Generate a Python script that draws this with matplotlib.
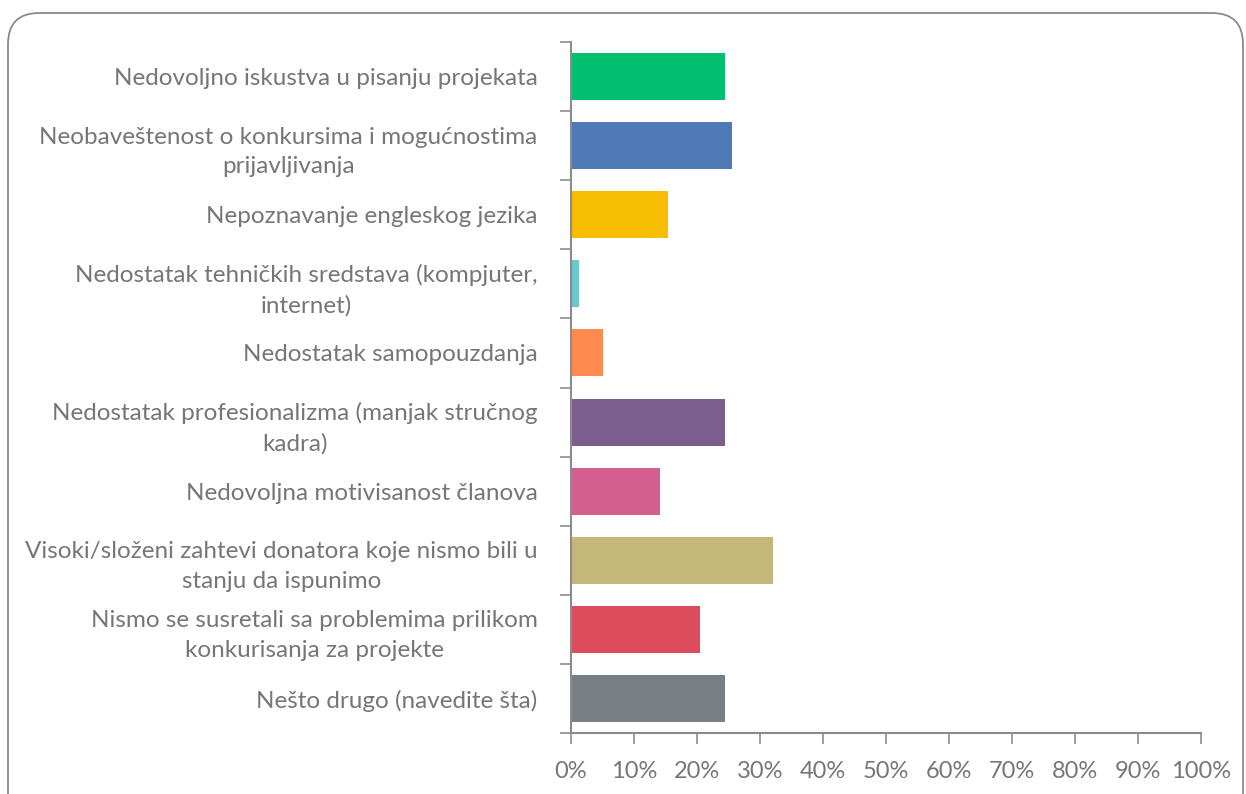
import matplotlib.pyplot as plt
import numpy as np
from matplotlib.patches import FancyBboxPatch

# categories (top to bottom) and shares
categories = [
    'Nedovoljno iskustva u pisanju projekata',
    'Neobaveštenost o konkursima i mogućnostima\nprijavljivanja',
    'Nepoznavanje engleskog jezika',
    'Nedostatak tehničkih sredstava (kompjuter,\ninternet)',
    'Nedostatak samopouzdanja',
    'Nedostatak profesionalizma (manjak stručnog\nkadra)',
    'Nedovoljna motivisanost članova',
    'Visoki/složeni zahtevi donatora koje nismo bili u\nstanju da ispunimo',
    'Nismo se susretali sa problemima prilikom\nkonkurisanja za projekte',
    'Nešto drugo (navedite šta)',
]
values = [24.4, 25.6, 15.4, 1.3, 5.1, 24.4, 14.1, 32.1, 20.5, 24.4]
colors = ['#00BF6F', '#4F7AB8', '#F7BD00', '#6CC8CF', '#FF8A50',
          '#7C5E8E', '#D45F8F', '#C5B77A', '#DC4C5C', '#788085']
xticks = np.arange(0, 101, 10)
xtick_labels = ['%d%%' % v for v in xticks]

axis_gray = '#8c8c8c'
text_gray = '#767676'

plt.rcParams['font.family'] = ['Lato', 'DejaVu Sans']

fig = plt.figure(figsize=(12.46, 7.94), dpi=100)
ax = fig.add_axes([0.4583, 0.0768, 0.9639 - 0.4583, 0.9471 - 0.0768])

y = np.arange(len(categories))
ax.barh(y, values, height=0.68, color=colors)

ax.set_xlim(0, 100)
ax.set_ylim(len(categories) - 0.5, -0.5)

ax.set_xticks(xticks)
ax.set_xticklabels(xtick_labels, fontsize=17, color=text_gray)
ax.tick_params(axis='x', direction='out', length=8, width=1.2, color=axis_gray, pad=12)

ax.set_yticks(y)
ax.set_yticklabels(categories, fontsize=17.5, color=text_gray,
                   multialignment='center', linespacing=1.5)
ax.tick_params(axis='y', which='major', length=0, pad=24)
ax.set_yticks(np.arange(-0.5, len(categories), 1), minor=True)
ax.tick_params(axis='y', which='minor', direction='out', length=8, width=1.2, color=axis_gray)

for s in ['top', 'right']:
    ax.spines[s].set_visible(False)
for s in ['left', 'bottom']:
    ax.spines[s].set_color(axis_gray)
    ax.spines[s].set_linewidth(1.5)

# rounded frame around the chart
frame = FancyBboxPatch((8 / 1246, -0.1), (1243 - 8) / 1246, (781 / 794) + 0.1,
                       boxstyle='round,pad=0,rounding_size=0.025',
                       transform=fig.transFigure, fill=False,
                       edgecolor='#8a8a8a', linewidth=1.3, mutation_aspect=1246 / 794)
fig.patches.append(frame)

fig.savefig('out.png', dpi=100)
